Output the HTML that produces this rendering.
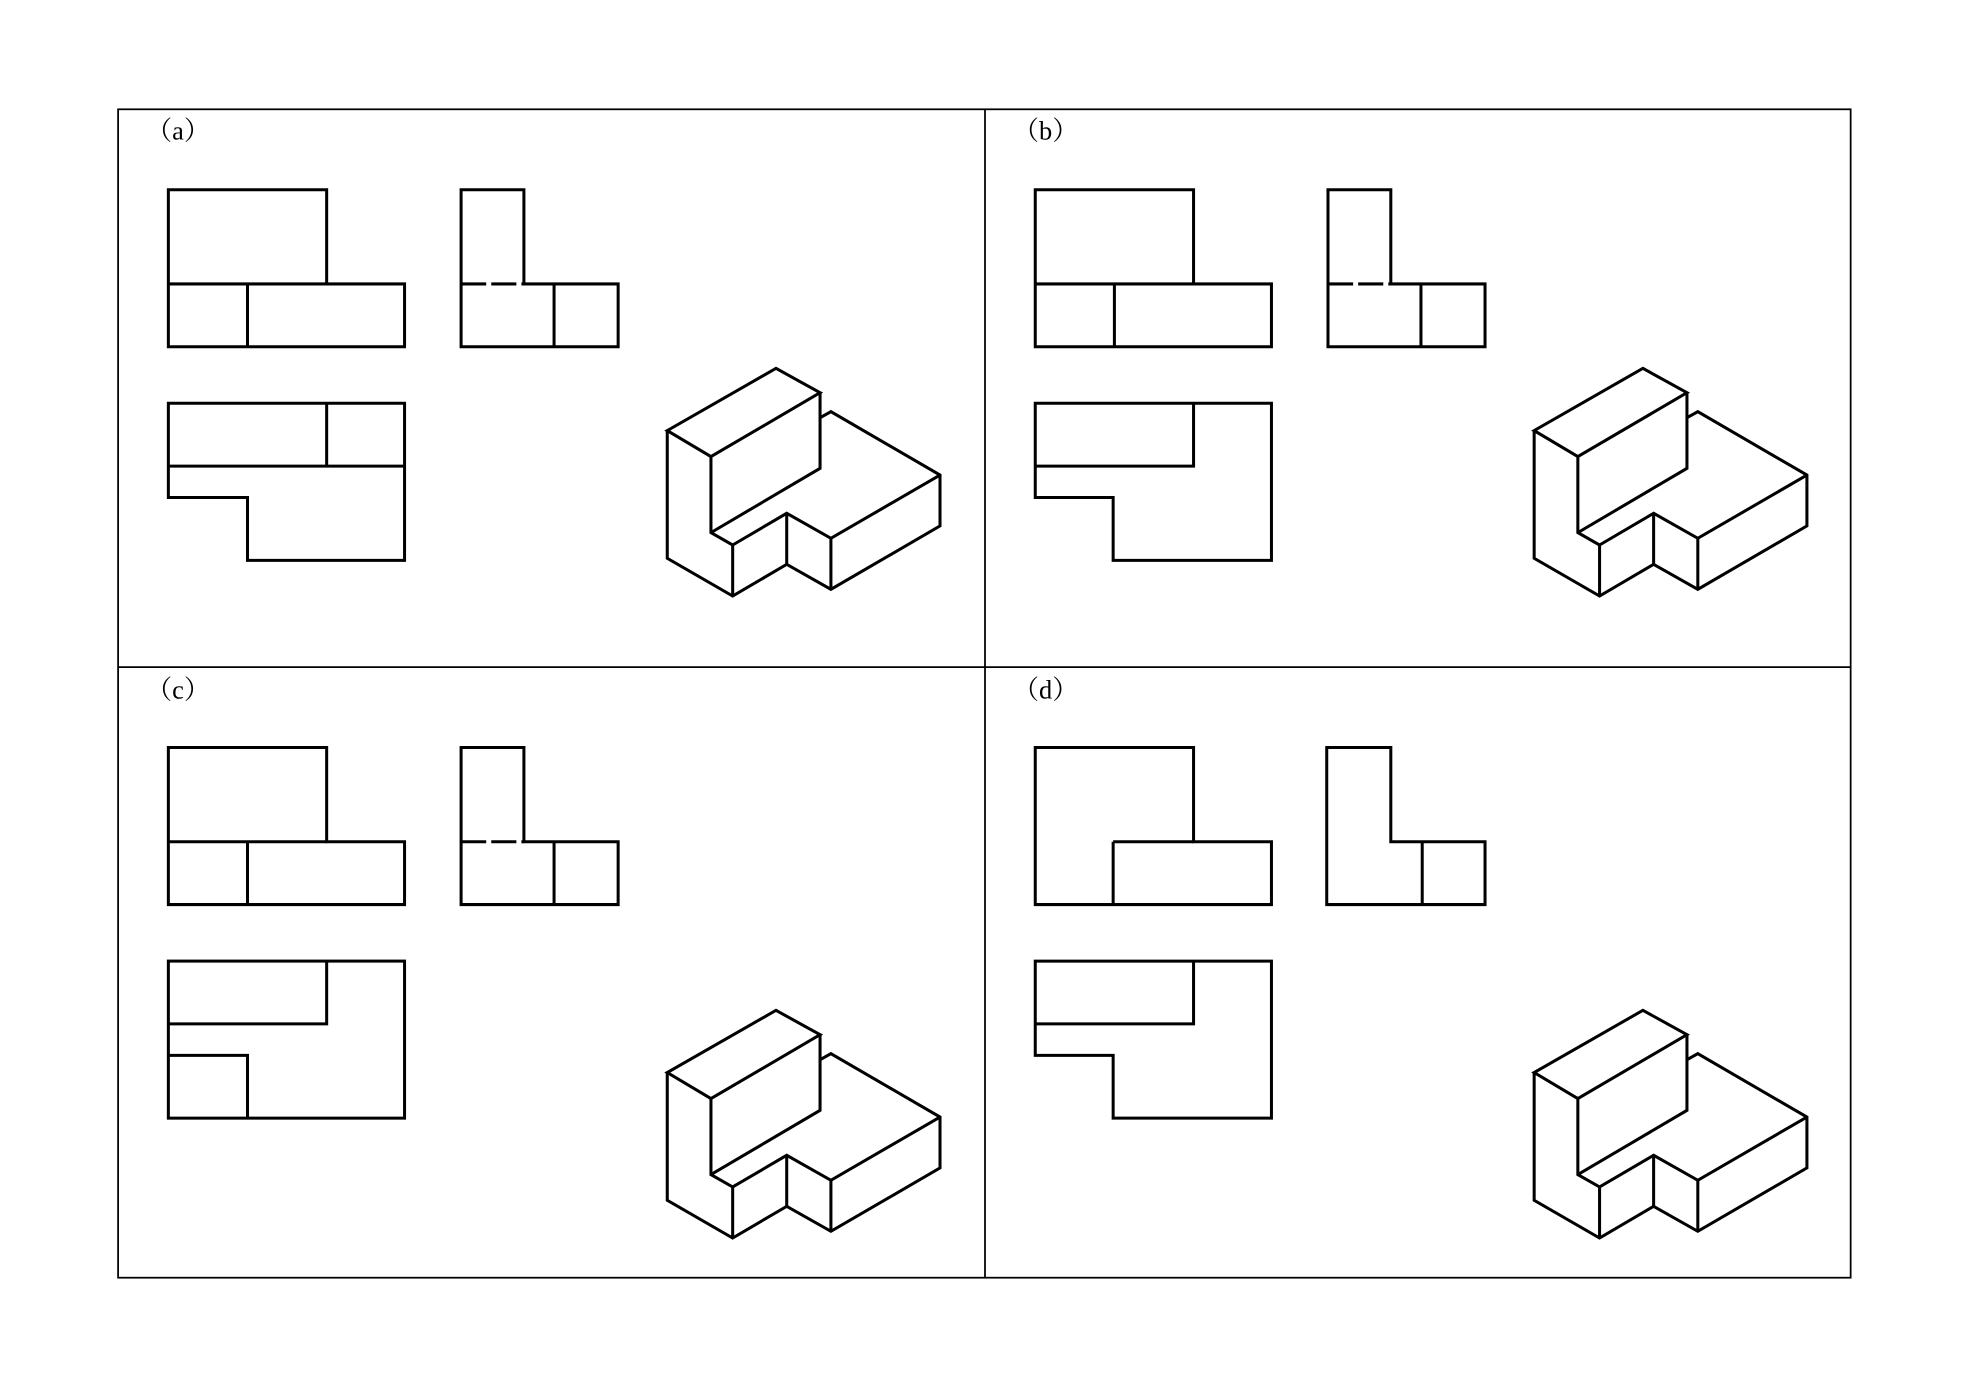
<!DOCTYPE html>
<html><head><meta charset="utf-8"><style>html,body{margin:0;padding:0;background:#fff}svg{display:block}</style></head>
<body>
<svg width="1970" height="1387" viewBox="0 0 1568 1104" preserveAspectRatio="none" xmlns="http://www.w3.org/2000/svg">
<defs>
<g id="iso" fill="none" stroke="#000" stroke-width="2.4" stroke-linejoin="miter" transform="scale(1.0051)">
<polygon points="614.5,291.7 649.4,311 563,361.6 528.4,341"/>
<polyline points="528.4,341 528.4,442.1 580.2,472 623,446.9 658,466.7 744.4,416.5 744.4,376.2 658,326 650,330.5"/>
<polyline points="649.4,311 649.4,370.9 563,421.8"/>
<polyline points="563,361.6 563,421.8 580.2,431.6 580.2,472"/>
<polyline points="580.2,431.6 623,406.5 658,426.3 744.4,376.2"/>
<line x1="623" y1="406.5" x2="623" y2="446.9"/>
<line x1="658" y1="426.3" x2="658" y2="466.7"/>
</g>
<g id="frontA" fill="none" stroke="#000" stroke-width="2.4">
<polygon points="134,151 260,151 260,226 322,226 322,276 134,276"/>
<line x1="134" y1="226" x2="260" y2="226"/>
<line x1="197" y1="226" x2="197" y2="276"/>
</g>
<g id="sideA" fill="none" stroke="#000" stroke-width="2.4">
<polygon points="367,151 417,151 417,226 492,226 492,276 367,276"/>
<line x1="441" y1="226" x2="441" y2="276"/>
<line x1="367" y1="226" x2="417" y2="226" stroke-dasharray="20,4"/>
</g>
</defs>
<g fill="none" stroke="#000" stroke-width="1.4">
<rect x="94" y="87" width="1379" height="930"/>
<line x1="784" y1="87" x2="784" y2="1017"/>
<line x1="94" y1="531" x2="1473" y2="531"/>
</g>
<g font-family="'Liberation Serif','Noto Serif CJK SC',serif" font-size="21">
<text x="116" y="111">（a）</text>
<text x="806" y="111">（b）</text>
<text x="116" y="556">（c）</text>
<text x="806" y="556">（d）</text>
</g>
<!-- (a) -->
<use href="#frontA"/><use href="#sideA"/>
<g fill="none" stroke="#000" stroke-width="2.4">
<polygon points="134,321 322,321 322,446 197,446 197,396 134,396"/>
<line x1="260" y1="321" x2="260" y2="371"/>
<line x1="134" y1="371" x2="322" y2="371"/>
</g>
<use href="#iso"/>
<!-- (b) -->
<use href="#frontA" transform="translate(690,0)"/><use href="#sideA" transform="translate(690,0)"/>
<g fill="none" stroke="#000" stroke-width="2.4">
<polygon points="824,321 1012,321 1012,446 886,446 886,396 824,396"/>
<polyline points="824,371 950,371 950,321"/>
</g>
<use href="#iso" transform="translate(690,0)"/>
<!-- (c) -->
<use href="#frontA" transform="translate(0,444)"/><use href="#sideA" transform="translate(0,444)"/>
<g fill="none" stroke="#000" stroke-width="2.4">
<rect x="134" y="765" width="188" height="125"/>
<polyline points="134,815 260,815 260,765"/>
<polyline points="134,840 197,840 197,890"/>
</g>
<use href="#iso" transform="translate(0,511)"/>
<!-- (d) -->
<g fill="none" stroke="#000" stroke-width="2.4">
<polygon points="824,595 950,595 950,670 1012,670 1012,720 824,720"/>
<line x1="886" y1="670" x2="950" y2="670"/>
<line x1="886" y1="670" x2="886" y2="720"/>
<polygon points="1056,595 1107,595 1107,670 1182,670 1182,720 1056,720"/>
<line x1="1132" y1="670" x2="1132" y2="720"/>
<polygon points="824,765 1012,765 1012,890 886,890 886,840 824,840"/>
<polyline points="824,815 950,815 950,765"/>
</g>
<use href="#iso" transform="translate(690,511)"/>
</svg>
</body></html>
